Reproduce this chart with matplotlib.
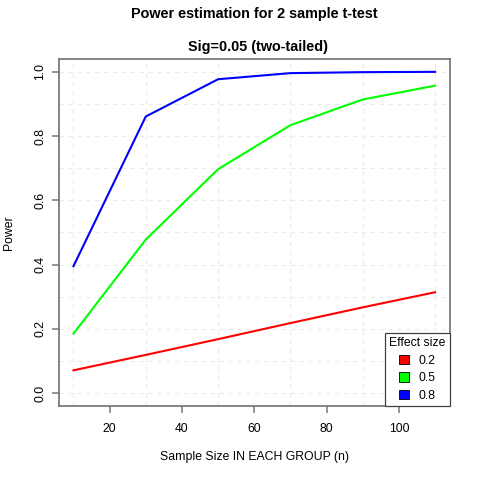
import numpy as np
import matplotlib
matplotlib.use('Agg')
import matplotlib.pyplot as plt
from matplotlib.patches import Patch

plt.rcParams['font.family'] = ['Liberation Sans', 'DejaVu Sans']

# sample size per group
n_per_group = [10, 30, 50, 70, 90, 110]
# estimated power
power_02 = [0.071, 0.119, 0.168, 0.218, 0.267, 0.314]
power_05 = [0.185, 0.478, 0.697, 0.834, 0.914, 0.957]
power_08 = [0.395, 0.861, 0.977, 0.996, 0.999, 1.000]
effect_labels = ['0.2', '0.5', '0.8']
effect_colors = ['#ff0000', '#00ff00', '#0000ff']

fig = plt.figure(figsize=(4.8, 4.8), dpi=100)
ax = fig.add_axes([0.1229, 0.1542, 0.8136, 0.7229])

# dashed background grid
for gx in n_per_group:
    ax.axvline(gx, color='#ebebeb', lw=0.8, ls=(0, (4, 4)), zorder=0)
for gy in np.arange(0, 1.01, 0.1):
    ax.axhline(gy, color='#ebebeb', lw=0.8, ls=(0, (4, 4)), zorder=0)

for vals, col in zip([power_02, power_05, power_08], effect_colors):
    ax.plot(n_per_group, vals, color=col, lw=1.5, zorder=2)

ax.set_xlim(6, 114)
ax.set_ylim(-0.04, 1.04)
ax.set_xticks([20, 40, 60, 80, 100])
ax.set_yticks([0.0, 0.2, 0.4, 0.6, 0.8, 1.0])
ax.set_yticklabels(['0.0', '0.2', '0.4', '0.6', '0.8', '1.0'], rotation=90, va='center')
ax.tick_params(direction='out', length=5, width=1.2, color='#808080', labelsize=8.8)
ax.tick_params(axis='x', pad=7)
ax.tick_params(axis='y', pad=4)
for sp in ax.spines.values():
    sp.set_color('#707070')
    sp.set_linewidth(1.2)

ax.set_xlabel('Sample Size IN EACH GROUP (n)', fontsize=8.8, va='center')
ax.set_ylabel('Power', fontsize=8.8, va='center')
ax.xaxis.set_label_coords(0.5, -0.147)
ax.yaxis.set_label_coords(-0.128, 0.5)

fig.text(0.53, 0.971, 'Power estimation for 2 sample t-test', ha='center', va='center',
         fontsize=10.4, fontweight='bold')
fig.text(0.537, 0.902, 'Sig=0.05 (two-tailed)', ha='center', va='center',
         fontsize=10.4, fontweight='bold')

handles = [Patch(facecolor=c, edgecolor='black', lw=0.6) for c in effect_colors]
leg = ax.legend(handles, effect_labels, title='Effect size', loc='lower right',
                borderaxespad=0, fontsize=8.8, title_fontsize=8.8, fancybox=False,
                framealpha=1, edgecolor='#404040', handlelength=0.8, handleheight=0.8,
                handletextpad=0.8, labelspacing=0.45, borderpad=0.35)
leg.get_frame().set_linewidth(0.9)
leg.set_zorder(5)

fig.savefig('out.png', dpi=100)
